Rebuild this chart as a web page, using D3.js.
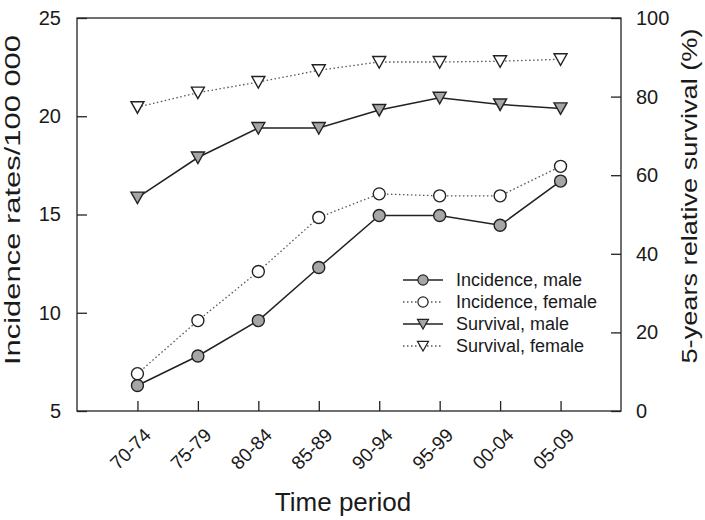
<!DOCTYPE html>
<html>
<head>
<meta charset="utf-8">
<script src="https://cdn.jsdelivr.net/npm/d3@7"></script>
<style>
  body { margin: 0; background: #fff; }
  text { font-family: "Liberation Sans", Arial, sans-serif; fill: #1a1a1a; }
</style>
</head>
<body>
<div id="chart"></div>
<script>
// time periods on the x axis
var periods = ["70-74", "75-79", "80-84", "85-89", "90-94", "95-99", "00-04", "05-09"];

// incidence rates per 100 000 (left axis)
var incidenceMale = [6.3, 7.8, 9.6, 12.3, 14.95, 14.95, 14.45, 16.7];
var incidenceFemale = [6.9, 9.6, 12.1, 14.85, 16.05, 15.95, 15.95, 17.45];

// 5-years relative survival % (right axis)
var survivalMale = [54.3, 64.5, 72.0, 72.0, 76.6, 79.7, 78.0, 77.0];
var survivalFemale = [77.3, 81.0, 83.7, 86.7, 88.8, 88.8, 89.0, 89.5];

var leftTicks = [5, 10, 15, 20, 25];
var rightTicks = [0, 20, 40, 60, 80, 100];

var margin = { top: 18, right: 84, bottom: 109, left: 77 },
  width = 705 - margin.left - margin.right,
  height = 520 - margin.top - margin.bottom;

var svg = d3.select("#chart")
  .append("svg")
  .attr("width", 705)
  .attr("height", 520)
  .append("g")
  .attr("transform", "translate(" + margin.left + "," + margin.top + ")");

// x: index positions, one empty slot either side
var x = d3.scaleLinear().domain([-1, periods.length]).range([0, width]);
var yL = d3.scaleLinear().domain([5, 25]).range([height, 0]);
var yR = d3.scaleLinear().domain([0, 100]).range([height, 0]);

// frame
svg.append("rect")
  .attr("width", width)
  .attr("height", height)
  .attr("fill", "none")
  .attr("stroke", "#222")
  .attr("stroke-width", 1.3);

// axes, ticks pointing inwards
var xAxis = svg.append("g")
  .attr("transform", "translate(0," + height + ")")
  .call(d3.axisBottom(x)
    .tickValues(d3.range(periods.length))
    .tickFormat(function(i) { return periods[i]; })
    .tickSizeInner(-10).tickSizeOuter(0).tickPadding(8));
xAxis.select(".domain").remove();
xAxis.selectAll("line").attr("stroke", "#222").attr("stroke-width", 1.3);
xAxis.selectAll("text")
  .style("font-size", "19px")
  .attr("text-anchor", "end")
  .attr("dy", "0.35em")
  .attr("transform", "translate(4,15) rotate(-45)");

var leftAxis = svg.append("g")
  .call(d3.axisLeft(yL).tickValues(leftTicks).tickSizeInner(-10).tickSizeOuter(0).tickPadding(16));
leftAxis.select(".domain").remove();
leftAxis.selectAll("line").attr("stroke", "#222").attr("stroke-width", 1.3);
leftAxis.selectAll("text").style("font-size", "20px");

var rightAxis = svg.append("g")
  .attr("transform", "translate(" + width + ",0)")
  .call(d3.axisRight(yR).tickValues(rightTicks).tickSizeInner(-10).tickSizeOuter(0).tickPadding(15));
rightAxis.select(".domain").remove();
rightAxis.selectAll("line").attr("stroke", "#222").attr("stroke-width", 1.3);
rightAxis.selectAll("text").style("font-size", "20px");

// axis titles (stretched along their length like in the scan)
svg.append("text")
  .attr("transform", "translate(" + (-57) + "," + 182 + ") rotate(-90)")
  .attr("text-anchor", "middle")
  .attr("textLength", 330)
  .attr("lengthAdjust", "spacingAndGlyphs")
  .style("font-size", "22px")
  .text("Incidence rates/100 000");

svg.append("text")
  .attr("transform", "translate(" + (width + 76) + "," + 178 + ") rotate(-90)")
  .attr("text-anchor", "middle")
  .attr("textLength", 335)
  .attr("lengthAdjust", "spacingAndGlyphs")
  .style("font-size", "22px")
  .text("5-years relative survival (%)");

svg.append("text")
  .attr("x", width / 2 - 6)
  .attr("y", height + 100)
  .attr("text-anchor", "middle")
  .style("font-size", "26px")
  .text("Time period");

var series = [
  { name: "Incidence, male", values: incidenceMale, y: yL, dash: null, fill: "#a6a6a6", shape: "circle" },
  { name: "Incidence, female", values: incidenceFemale, y: yL, dash: "1.5,2.5", fill: "#fff", shape: "circle" },
  { name: "Survival, male", values: survivalMale, y: yR, dash: null, fill: "#a6a6a6", shape: "triangle" },
  { name: "Survival, female", values: survivalFemale, y: yR, dash: "1.5,2.5", fill: "#fff", shape: "triangle" }
];

function marker(sel, s) {
  if (s.shape === "circle") {
    sel.append("circle").attr("r", 6);
  } else {
    sel.append("path").attr("d", "M-6.5,-5.5L6.5,-5.5L0,6Z");
  }
  sel.selectAll("circle, path")
    .attr("fill", s.fill)
    .attr("stroke", "#222")
    .attr("stroke-width", 1.4);
}

series.forEach(function(s) {
  var line = d3.line()
    .x(function(d, i) { return x(i); })
    .y(function(d) { return s.y(d); });

  svg.append("path")
    .datum(s.values)
    .attr("d", line)
    .attr("fill", "none")
    .attr("stroke", s.dash ? "#555" : "#222")
    .attr("stroke-width", s.dash ? 1.3 : 1.5)
    .attr("stroke-dasharray", s.dash);

  svg.selectAll(null)
    .data(s.values)
    .enter()
    .append("g")
    .attr("transform", function(d, i) { return "translate(" + x(i) + "," + s.y(d) + ")"; })
    .each(function() { marker(d3.select(this), s); });
});

// legend
var legend = svg.append("g").attr("transform", "translate(326,262)");
series.forEach(function(s, i) {
  var g = legend.append("g").attr("transform", "translate(0," + (i * 22) + ")");
  g.append("line")
    .attr("x1", 0).attr("x2", 40)
    .attr("stroke", s.dash ? "#555" : "#222")
    .attr("stroke-width", 1.3)
    .attr("stroke-dasharray", s.dash);
  var m = g.append("g").attr("transform", "translate(20,0) scale(0.85)");
  marker(m, s);
  g.append("text")
    .attr("x", 53)
    .attr("dy", "0.35em")
    .style("font-size", "18px")
    .text(s.name);
});
</script>
</body>
</html>
